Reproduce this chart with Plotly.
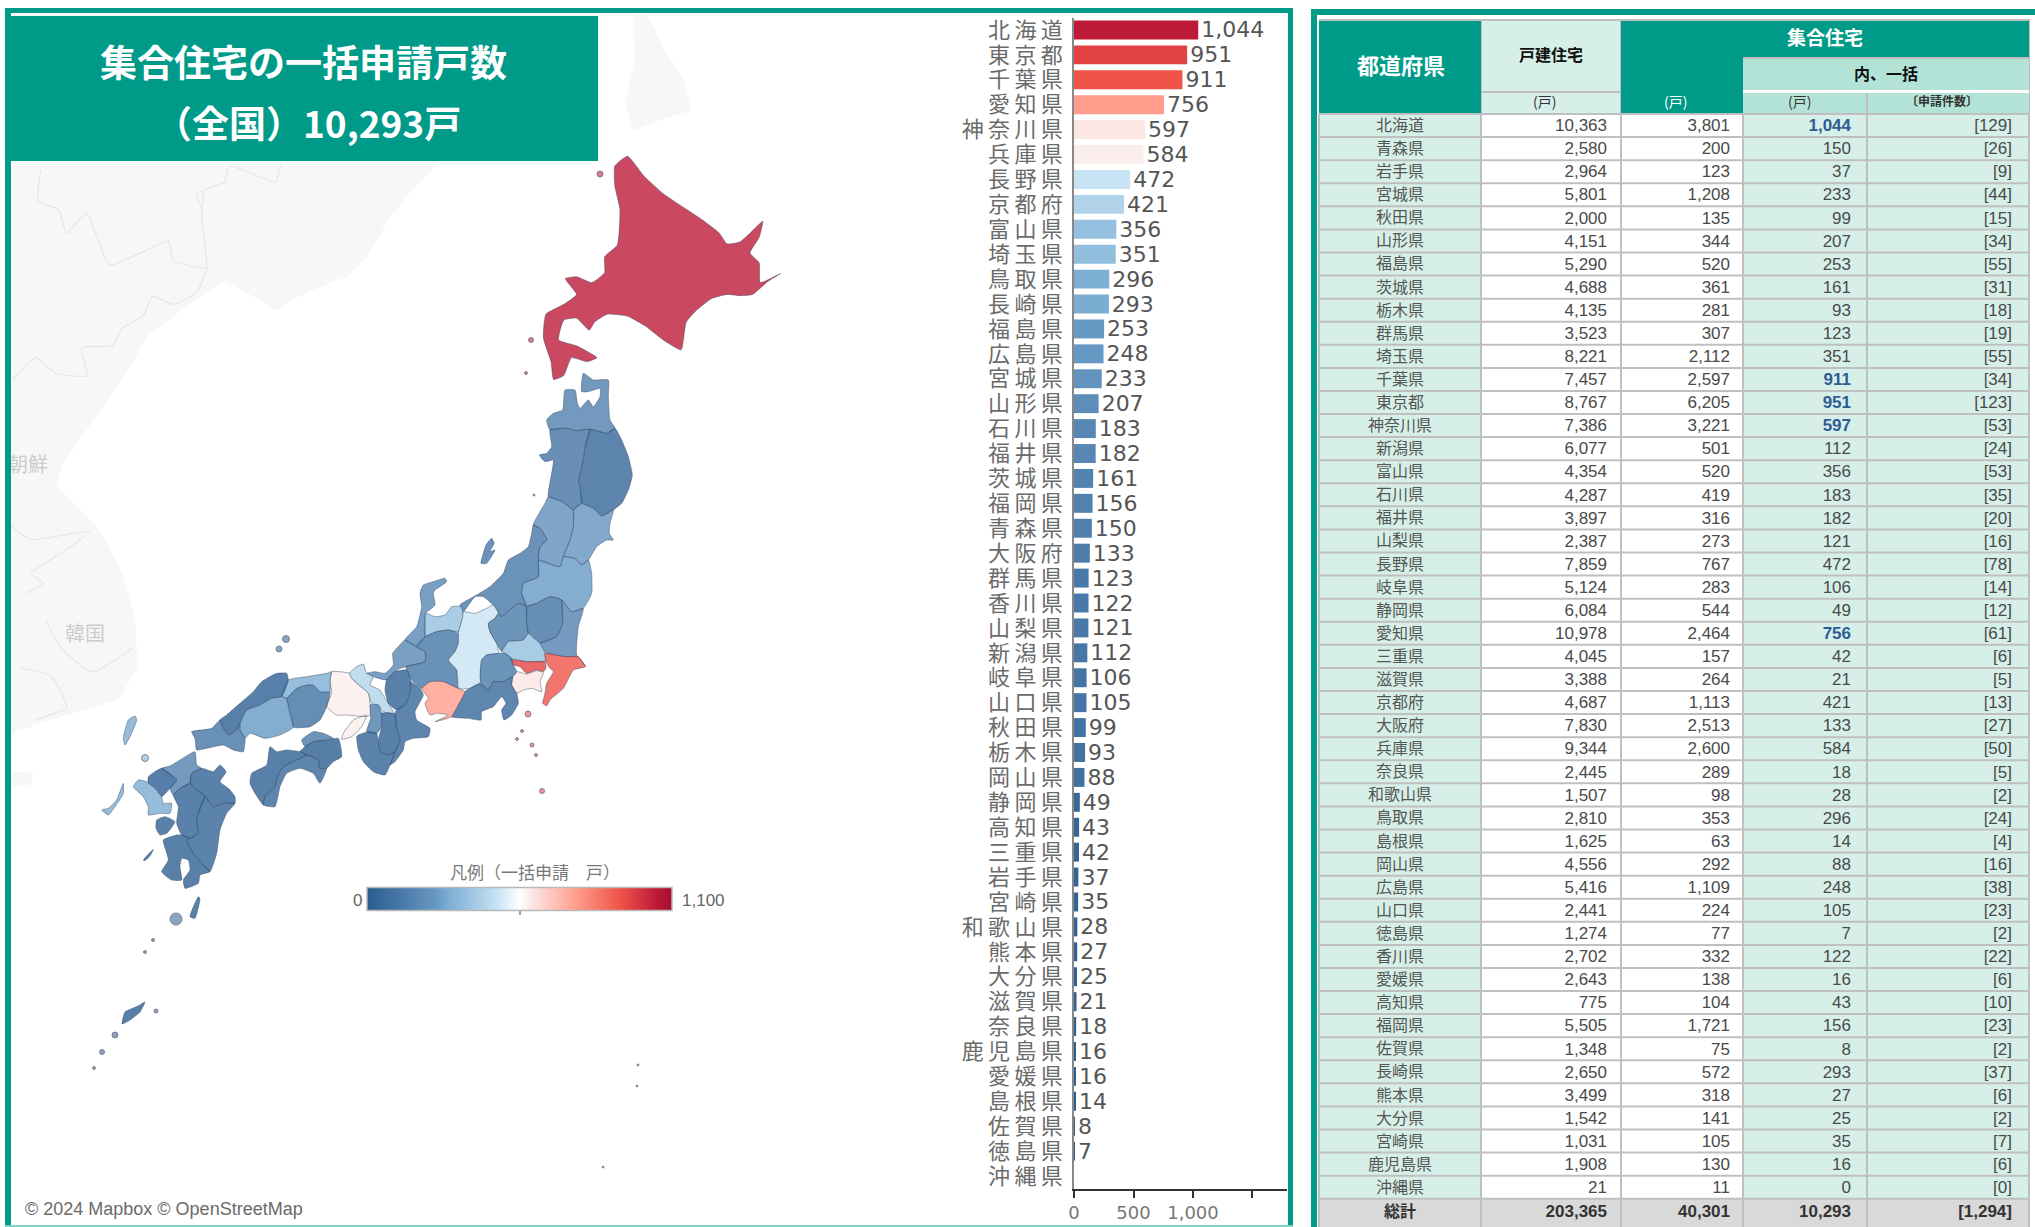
import plotly.graph_objects as go

W, H = 2035, 1227

# ---------- table data (north to south) ----------
PREFS = ["北海道","青森県","岩手県","宮城県","秋田県","山形県","福島県","茨城県","栃木県","群馬県","埼玉県","千葉県","東京都","神奈川県","新潟県","富山県","石川県","福井県","山梨県","長野県","岐阜県","静岡県","愛知県","三重県","滋賀県","京都府","大阪府","兵庫県","奈良県","和歌山県","鳥取県","島根県","岡山県","広島県","山口県","徳島県","香川県","愛媛県","高知県","福岡県","佐賀県","長崎県","熊本県","大分県","宮崎県","鹿児島県","沖縄県"]
DETACHED = [10363,2580,2964,5801,2000,4151,5290,4688,4135,3523,8221,7457,8767,7386,6077,4354,4287,3897,2387,7859,5124,6084,10978,4045,3388,4687,7830,9344,2445,1507,2810,1625,4556,5416,2441,1274,2702,2643,775,5505,1348,2650,3499,1542,1031,1908,21]
APARTMENT = [3801,200,123,1208,135,344,520,361,281,307,2112,2597,6205,3221,501,520,419,316,273,767,283,544,2464,157,264,1113,2513,2600,289,98,353,63,292,1109,224,77,332,138,104,1721,75,572,318,141,105,130,11]
BULK = [1044,150,37,233,99,207,253,161,93,123,351,911,951,597,112,356,183,182,121,472,106,49,756,42,21,421,133,584,18,28,296,14,88,248,105,7,122,16,43,156,8,293,27,25,35,16,0]
APPLICATIONS = [129,26,9,44,15,34,55,31,18,19,55,34,123,53,24,53,35,20,16,78,14,12,61,6,5,13,27,50,5,2,24,4,16,38,23,2,22,6,10,23,2,37,6,2,7,6,0]
TOTALS = [203365, 40301, 10293, 1294]
HIGHLIGHT = ["北海道","千葉県","東京都","神奈川県","愛知県"]

BAR_ORDER = ["北海道","東京都","千葉県","愛知県","神奈川県","兵庫県","長野県","京都府","富山県","埼玉県","鳥取県","長崎県","福島県","広島県","宮城県","山形県","石川県","福井県","茨城県","福岡県","青森県","大阪府","群馬県","香川県","山梨県","新潟県","岐阜県","山口県","秋田県","栃木県","岡山県","静岡県","高知県","三重県","岩手県","宮崎県","和歌山県","熊本県","大分県","滋賀県","奈良県","鹿児島県","愛媛県","島根県","佐賀県","徳島県","沖縄県"]
VALUE_OF = dict(zip(PREFS, BULK))

# ---------- colour scale ----------
SCALE_MAX = 1100
SCALE_STOPS = [0, .188, .23, .269, .319, .383, .429, .5, .531, .543, .687, .828, .865, .949, 1]
SCALE_COLORS = ["#2a5c90","#5e8db9","#6699c4","#7daed3","#93bfdf","#b1d3e9","#c8e4f4","#ffffff","#fbedeb","#fbe6e3","#ff9c8c","#ef5448","#e34244","#bd1a38","#a80c30"]
MAP_OPACITY = 0.8

# ---------- map outlines: three traced sheets, each with (origin x, origin y, scale x, scale y) ----------
SHEET_N = (0, 0, 1/1.96, 1/2.53)
SHEET_E = (380, 360, 1/3, 1/3)
SHEET_W = (80, 640, 1/3, 1/3)
SHEET_U = (0, 0, 1, 1)

OUTLINES = {
 "北海道": [(SHEET_N, [(1205,420),(1230,395),(1262,445),(1300,490),(1340,525),(1375,555),(1410,590),(1425,617),(1450,612),(1470,590),(1495,560),(1488,600),(1470,640),(1488,665),(1490,715),(1530,692),(1505,712),(1475,745),(1450,748),(1425,745),(1395,755),(1365,785),(1345,815),(1335,885),(1300,860),(1265,825),(1230,800),(1190,795),(1165,815),(1155,835),(1130,805),(1105,810),(1095,860),(1130,875),(1170,905),(1150,915),(1120,905),(1105,950),(1085,960),(1080,915),(1065,855),(1070,795),(1105,770),(1130,745),(1108,705),(1130,700),(1160,715),(1185,690),(1185,650),(1210,620),(1215,530),(1205,470)])],
 "青森県": [(SHEET_E, [(610,40),(640,60),(685,60),(685,110),(690,180),(705,205),(680,220),(630,208),(590,212),(560,205),(510,210),(500,180),(520,160),(548,150),(555,90),(585,90),(592,130),(600,145),(625,120),(640,140),(660,110),(660,85),(625,95),(605,95)])],
 "岩手県": [(SHEET_E, [(705,205),(725,240),(745,290),(757,345),(745,390),(725,430),(700,450),(665,468),(640,445),(605,430),(600,380),(595,365),(610,300),(615,260),(630,208),(680,220)])],
 "秋田県": [(SHEET_E, [(510,210),(560,205),(590,212),(630,208),(615,260),(610,300),(595,365),(600,380),(605,430),(580,450),(545,425),(505,410),(515,340),(520,300),(495,305),(478,285),(500,280),(515,260)])],
 "宮城県": [(SHEET_E, [(580,450),(605,430),(640,445),(665,468),(700,450),(690,490),(688,520),(700,540),(680,540),(650,560),(625,600),(605,615),(585,595),(550,590),(570,540),(580,500)])],
 "山形県": [(SHEET_E, [(505,410),(545,425),(580,450),(580,500),(570,540),(550,590),(540,620),(475,600),(480,560),(500,540),(480,505),(460,495),(495,430)])],
 "福島県": [(SHEET_E, [(550,590),(585,595),(605,615),(625,600),(635,640),(635,700),(610,745),(575,755),(545,720),(510,710),(470,730),(440,740),(425,700),(430,670),(475,650),(475,600),(540,620)])],
 "新潟県": [(SHEET_E, [(460,495),(480,505),(500,540),(480,560),(475,600),(475,650),(430,670),(425,700),(440,740),(415,730),(395,745),(365,770),(340,735),(310,710),(285,710),(250,755),(240,735),(290,705),(330,680),(370,640),(385,600),(420,580),(445,560),(455,520)]),
          (SHEET_E, [(335,535),(342,550),(330,575),(345,570),(320,610),(303,610),(310,580),(318,555)])],
 "富山県": [(SHEET_E, [(137,760),(165,770),(195,765),(215,740),(245,740),(248,770),(235,815),(205,810),(170,815),(135,830)])],
 "石川県": [(SHEET_E, [(195,655),(200,665),(165,690),(160,700),(165,735),(137,760),(135,790),(135,830),(110,860),(75,840),(110,800),(125,740),(120,700),(130,675),(160,665)])],
 "福井県": [(SHEET_E, [(75,840),(110,860),(135,875),(135,905),(78,920),(60,925),(45,935),(20,960),(-20,950),(-40,940),(-15,935),(15,940),(40,915),(38,880),(55,860)])],
 "岐阜県": [(SHEET_E, [(135,830),(170,815),(205,810),(235,820),(235,850),(225,875),(205,900),(230,930),(235,985),(190,965),(150,965),(125,985),(95,960),(78,920),(135,905),(135,875),(110,860)])],
 "長野県": [(SHEET_E, [(250,755),(285,760),(320,745),(340,735),(355,760),(345,775),(325,790),(330,815),(350,850),(355,880),(320,885),(305,900),(300,970),(270,985),(235,985),(230,930),(205,900),(225,875),(235,850),(235,820),(248,770)])],
 "群馬県": [(SHEET_E, [(365,770),(395,745),(415,730),(440,740),(440,790),(445,820),(430,840),(385,845),(365,875),(350,850),(330,815),(325,790),(345,775),(355,760)])],
 "栃木県": [(SHEET_E, [(440,740),(470,730),(510,710),(545,720),(548,790),(530,830),(480,850),(445,820),(440,790)])],
 "茨城県": [(SHEET_E, [(575,755),(610,745),(595,800),(590,850),(590,885),(618,920),(595,892),(555,890),(500,880),(480,850),(530,830),(548,790),(545,720)])],
 "埼玉県": [(SHEET_E, [(365,875),(385,845),(430,840),(445,820),(480,850),(495,880),(495,905),(440,905),(395,895),(375,880)])],
 "千葉県": [(SHEET_E, [(495,880),(555,890),(595,890),(615,920),(580,930),(550,985),(510,1020),(500,1038),(488,1030),(495,1000),(500,970),(520,935),(510,925),(498,905)])],
 "東京都": [(SHEET_E, [(390,898),(440,905),(495,905),(498,925),(490,935),(470,930),(440,940),(420,920),(400,915)])],
 "神奈川県": [(SHEET_E, [(410,935),(440,942),(470,932),(490,938),(480,965),(485,995),(455,985),(430,990),(410,1000),(395,975),(398,950)])],
 "山梨県": [(SHEET_E, [(305,900),(320,885),(355,880),(375,880),(395,895),(400,915),(410,935),(398,950),(370,965),(340,965),(325,990),(305,975),(300,950)])],
 "静岡県": [(SHEET_E, [(255,995),(270,985),(300,970),(325,990),(340,965),(370,965),(398,950),(395,975),(410,1000),(415,1030),(395,1065),(372,1080),(365,1050),(378,1030),(365,1010),(340,1040),(305,1055),(303,1080),(265,1075),(215,1070),(235,1035)])],
 "愛知県": [(SHEET_E, [(125,985),(150,965),(190,965),(235,985),(255,995),(235,1035),(215,1070),(165,1085),(205,1065),(170,1060),(150,1065),(135,1030),(145,1015)])],
 "京都府": [(SHEET_W, [(808,100),(830,80),(850,72),(860,100),(880,110),(870,135),(900,150),(915,175),(942,220),(910,215),(895,195),(875,190),(865,160),(830,130),(815,115)])],
 "滋賀県": [(SHEET_W, [(920,120),(945,95),(980,90),(992,120),(990,160),(975,195),(950,210),(925,190),(915,150)])],
 "三重県": [(SHEET_W, [(992,125),(1020,145),(1030,165),(1005,215),(1010,240),(1050,265),(1045,290),(1000,295),(975,305),(970,330),(945,365),(930,375),(945,335),(960,300),(950,265),(945,220),(950,210),(975,195),(990,160)])],
 "奈良県": [(SHEET_W, [(905,220),(945,222),(950,265),(960,300),(945,335),(925,345),(900,335),(895,300),(905,260)])],
 "大阪府": [(SHEET_W, [(870,195),(895,195),(905,220),(905,260),(890,280),(860,275),(872,235)])],
 "和歌山県": [(SHEET_W, [(835,285),(865,275),(890,280),(895,310),(900,335),(925,345),(945,335),(930,375),(915,405),(880,395),(850,365),(835,330),(830,290)])],
 "兵庫県": [(SHEET_W, [(755,95),(808,100),(815,115),(830,130),(865,160),(870,225),(858,230),(800,225),(770,225),(740,200),(755,160),(750,120)]),
          (SHEET_W, [(820,240),(860,225),(845,260),(815,290),(785,298),(790,280)])],
 "岡山県": [(SHEET_W, [(620,175),(650,145),(680,135),(700,135),(720,155),(750,155),(740,200),(720,240),(690,260),(640,262),(630,220)])],
 "鳥取県": [(SHEET_W, [(605,170),(625,120),(680,110),(740,100),(755,95),(750,120),(750,155),(720,155),(700,135),(680,135),(650,145),(620,175)])],
 "島根県": [(SHEET_W, [(420,240),(440,225),(480,190),(520,155),(545,125),(590,100),(620,100),(625,120),(605,170),(575,175),(540,195),(500,210),(480,250),(470,270),(445,285),(430,265)])],
 "広島県": [(SHEET_W, [(480,250),(500,210),(540,195),(575,175),(605,170),(620,175),(630,220),(640,262),(600,285),(555,295),(510,280),(495,295),(480,270)])],
 "山口県": [(SHEET_W, [(335,275),(395,265),(420,240),(430,265),(445,285),(470,270),(480,250),(480,270),(495,295),(490,335),(460,330),(430,315),(380,325),(350,330),(345,295)])],
 "香川県": [(SHEET_W, [(665,300),(700,275),(730,280),(760,295),(745,300),(700,305),(675,320)])],
 "徳島県": [(SHEET_W, [(675,320),(700,305),(745,300),(775,295),(785,350),(760,365),(740,385),(720,385),(715,360),(680,345),(660,335)])],
 "愛媛県": [(SHEET_W, [(515,400),(560,375),(570,320),(590,335),(620,330),(660,335),(680,345),(660,355),(610,380),(590,415),(585,440),(555,470),(550,495),(525,460),(510,430)])],
 "高知県": [(SHEET_W, [(550,495),(555,470),(585,440),(590,415),(610,380),(660,355),(680,345),(715,360),(720,385),(740,385),(720,430),(700,400),(660,385),(620,400),(600,440),(585,500)])],
 "福岡県": [(SHEET_W, [(245,385),(270,378),(300,360),(345,335),(350,375),(365,385),(335,400),(330,430),(300,445),(280,465),(270,445),(290,420)])],
 "佐賀県": [(SHEET_W, [(205,410),(225,395),(245,385),(290,420),(270,445),(245,470),(225,445),(205,430)])],
 "長崎県": [(SHEET_W, [(175,420),(200,425),(225,445),(245,470),(250,490),(275,490),(270,520),(240,520),(205,525),(205,500),(190,470),(160,440)]),
          (SHEET_W, [(65,510),(85,505),(110,480),(130,430),(130,460),(105,500),(85,525)]),
          (SHEET_W, [(165,228),(170,240),(150,290),(135,315),(130,295),(145,240)])],
 "大分県": [(SHEET_W, [(335,400),(365,385),(400,395),(420,375),(438,395),(420,425),(445,445),(465,470),(465,490),(430,490),(400,500),(375,470),(345,445),(330,430)])],
 "熊本県": [(SHEET_W, [(280,465),(300,445),(330,430),(345,445),(375,470),(350,535),(355,580),(330,595),(305,585),(290,550),(295,500)]),
          (SHEET_W, [(230,540),(255,530),(285,545),(260,580),(240,585),(228,565)])],
 "宮崎県": [(SHEET_W, [(375,470),(400,500),(430,490),(465,490),(440,520),(420,570),(410,640),(390,695),(365,670),(340,640),(320,600),(330,595),(355,580),(350,535)])],
 "鹿児島県": [(SHEET_W, [(250,600),(290,585),(305,585),(330,595),(320,600),(340,640),(365,670),(390,695),(360,705),(355,730),(315,745),(310,720),(330,690),(325,660),(305,655),(300,680),(305,720),(275,720),(245,695),(265,660)]),
            (SHEET_W, [(355,770),(360,775),(345,835),(330,830)]),
            (SHEET_W, [(190,660),(220,628),(212,645),(195,662)]),
            (SHEET_U, [(145,1002),(138,1006),(125,1012),(122,1024),(130,1020),(140,1012)])],
}

# small islands: prefecture, map grid x, map grid y, marker size
ISLETS = [("北海道",600,174,6),("北海道",531,340,5),("北海道",526,373,3),
          ("東京都",528,714,6),("東京都",522,731,3),("東京都",517,739,3),("東京都",532,745,4),("東京都",536,755,3),("東京都",542,791,5),
          ("東京都",638,1065,2),("東京都",637,1086,2),("東京都",603,1167,2),
          ("長崎県",145,758,7),("新潟県",534,495,2),
          ("島根県",286,639,7),("島根県",279,649,6),
          ("鹿児島県",176,919,12),("鹿児島県",115,1035,6),("鹿児島県",102,1052,5),("鹿児島県",156,1011,4),("鹿児島県",94,1068,3),("鹿児島県",153,940,3),("鹿児島県",145,952,3)]

# faint surrounding land
LAND = [(SHEET_N, [(22,410),(860,410),(800,490),(760,560),(720,650),(680,700),(600,740),(540,785),(490,745),(440,710),(400,745),(340,800),(290,850),(240,960),(190,1050),(120,1180),(110,1230),(150,1280),(200,1350),(240,1450),(265,1568),(270,1690),(231,1771),(98,1822),(29,1852),(22,1870)]),
        (SHEET_N, [(22,1955),(65,1950),(60,1985),(22,1990)]),
        (SHEET_N, [(1240,38),(1270,40),(1300,120),(1340,200),(1355,280),(1300,300),(1240,330),(1225,260),(1245,150)])]
BORDERS = [(SHEET_N, [(400,480),(395,540),(405,680),(385,740),(340,770),(300,750),(280,800),(240,830),(220,875),(160,880),(170,950),(110,945),(70,905),(25,960)]),
           (SHEET_N, [(80,430),(75,510),(115,530),(130,590),(170,540),(215,670),(330,610),(340,660),(405,680)]),
           (SHEET_N, [(550,415),(540,460),(450,420),(440,460),(385,490),(400,540)]),
           (SHEET_N, [(22,1330),(60,1365),(175,1345),(120,1400),(60,1450),(85,1475),(50,1500)]),
           (SHEET_N, [(90,1570),(120,1640),(180,1700),(260,1640)]),
           (SHEET_N, [(40,1690),(100,1710),(130,1790),(70,1820)])]
MAP_LABELS = ["朝鮮", "韓国"]
MAP_LABEL_X = [48, 105]
MAP_LABEL_Y = [467, 636]

# ---------- helpers ----------
def hex_rgb(c):
    return tuple(int(c[i:i+2], 16) for i in (1, 3, 5))

def scale_rgb(v):
    t = v / SCALE_MAX
    for i in range(len(SCALE_STOPS) - 1):
        a, b = SCALE_STOPS[i], SCALE_STOPS[i + 1]
        if t <= b:
            f = (t - a) / (b - a)
            ca, cb = hex_rgb(SCALE_COLORS[i]), hex_rgb(SCALE_COLORS[i + 1])
            return tuple(round(ca[k] + (cb[k] - ca[k]) * f) for k in range(3))
    return hex_rgb(SCALE_COLORS[-1])

def map_color(v):
    r, g, b = scale_rgb(v)
    return f"rgba({r},{g},{b},{MAP_OPACITY})"

def sheet_xy(parts, close=True):
    xs, ys = [], []
    for (ox, oy, sx, sy), pts in parts:
        pts = pts + [pts[0]] if close else pts
        xs += [ox + p[0] * sx for p in pts] + [None]
        ys += [oy + p[1] * sy for p in pts] + [None]
    return xs, ys

def px(x):
    return x / W

def py(y):
    return 1 - y / H

fig = go.Figure()

# ---------- map ----------
lx, ly = sheet_xy(LAND)
fig.add_trace(go.Scatter(x=lx, y=ly, mode="lines", fill="toself", fillcolor="#f7f7f7", line=dict(width=0), hoverinfo="skip", xaxis="x", yaxis="y"))
bx, by = sheet_xy(BORDERS, close=False)
fig.add_trace(go.Scatter(x=bx, y=by, mode="lines", line=dict(color="#e6e6e6", width=1.2, shape="spline", smoothing=0.5), hoverinfo="skip", xaxis="x", yaxis="y"))
fig.add_trace(go.Scatter(x=MAP_LABEL_X, y=MAP_LABEL_Y, text=MAP_LABELS, mode="text", textposition="middle left",
                         textfont=dict(family="Noto Sans CJK JP", size=20, color="#cccccc"), hoverinfo="skip", xaxis="x", yaxis="y"))
for name, parts in OUTLINES.items():
    x, y = sheet_xy(parts)
    fig.add_trace(go.Scatter(x=x, y=y, mode="lines", fill="toself", fillcolor=map_color(VALUE_OF[name]),
                             line=dict(color="rgba(55,70,95,0.45)", width=1, shape="spline", smoothing=0.45), name=name,
                             hoverinfo="name", xaxis="x", yaxis="y"))
fig.add_trace(go.Scatter(x=[i[1] for i in ISLETS], y=[i[2] for i in ISLETS], mode="markers",
                         marker=dict(size=[i[3] for i in ISLETS], color=[map_color(VALUE_OF[i[0]]) for i in ISLETS],
                                     line=dict(color="rgba(50,50,70,0.8)", width=1)),
                         hoverinfo="skip", xaxis="x", yaxis="y"))

# ---------- ranked bars ----------
bar_values = [VALUE_OF[p] for p in BAR_ORDER]
fig.add_trace(go.Bar(
    y=BAR_ORDER, x=bar_values, orientation="h", width=0.76,
    text=[f"{v:,}" if v else "" for v in bar_values], textposition="outside", cliponaxis=False, constraintext="none",
    textfont=dict(family="DejaVu Sans", size=22, color="#555555"),
    marker=dict(color=bar_values, cmin=0, cmax=SCALE_MAX,
                colorscale=[[s, c] for s, c in zip(SCALE_STOPS, SCALE_COLORS)],
                line=dict(width=0), showscale=True,
                colorbar=dict(orientation="h", x=px(519.5), xanchor="center", y=py(912), yanchor="bottom",
                              len=305, lenmode="pixels", thickness=23, thicknessmode="pixels",
                              xpad=0, ypad=0, ticks="", showticklabels=False,
                              outlinecolor="#b8b8b8", outlinewidth=1.5)),
    hovertemplate="%{y}: %{x:,}<extra></extra>", xaxis="x2", yaxis="y2"))

# ---------- table body ----------
ROW_H = 23.08
TOTAL_H = 28
TABLE_TOP, TABLE_BODY_END, TABLE_END = 114, 1199, 1227
COL_EDGES = [1319, 1481, 1621, 1743, 1867, 2029]
COL_TEXT_RIGHT = [1607, 1730, 1851, 2012]
TEXT_NUDGE = 0.06
TOTAL_Y = len(PREFS) - 0.5 + 0.5 * TOTAL_H / ROW_H
rows = [i + TEXT_NUDGE for i in range(len(PREFS))]
NAME_FONT = "Liberation Sans, Noto Sans CJK JP"
NUM_FONT = "Liberation Sans, Noto Sans CJK JP"
CJK = "Noto Sans CJK JP"

fig.add_trace(go.Scatter(x=[(COL_EDGES[0] + COL_EDGES[1]) / 2] * len(rows), y=rows, text=PREFS, mode="text",
                         textposition="middle center", textfont=dict(family=NAME_FONT, size=16, color="#555555"),
                         hoverinfo="skip", cliponaxis=False, xaxis="x3", yaxis="y3"))
col_text = [[f"{v:,}" for v in DETACHED], [f"{v:,}" for v in APARTMENT],
            [f"<b>{v:,}</b>" if p in HIGHLIGHT else f"{v:,}" for p, v in zip(PREFS, BULK)],
            [f"[{v:,}]" for v in APPLICATIONS]]
for j, tx in enumerate(col_text):
    colors = ["#2f5c92" if (j == 2 and p in HIGHLIGHT) else "#4a4a4a" for p in PREFS]
    fig.add_trace(go.Scatter(x=[COL_TEXT_RIGHT[j]] * len(rows), y=rows, text=tx, mode="text",
                             textposition="middle left", textfont=dict(family=NUM_FONT, size=17, color=colors),
                             hoverinfo="skip", cliponaxis=False, xaxis="x3", yaxis="y3"))
total_text = [f"<b>{TOTALS[0]:,}</b>", f"<b>{TOTALS[1]:,}</b>", f"<b>{TOTALS[2]:,}</b>", f"<b>[{TOTALS[3]:,}]</b>"]
fig.add_trace(go.Scatter(x=COL_TEXT_RIGHT, y=[TOTAL_Y] * 4, text=total_text, mode="text", textposition="middle left",
                         textfont=dict(family=NUM_FONT, size=17, color="#333333"), hoverinfo="skip", cliponaxis=False, xaxis="x3", yaxis="y3"))
fig.add_trace(go.Scatter(x=[(COL_EDGES[0] + COL_EDGES[1]) / 2], y=[TOTAL_Y], text=["<b>総計</b>"], mode="text", textposition="middle center",
                         textfont=dict(family=NAME_FONT, size=16, color="#333333"), hoverinfo="skip", cliponaxis=False, xaxis="x3", yaxis="y3"))

# ---------- shapes ----------
TEAL = "#009b88"
MINT = "#d6f0e9"
MINT2 = "#b3e3d7"
GRID = "#bfbfbf"
shapes = []

def rect(x0, y0, x1, y1, fill, line=None, lw=0, layer="below"):
    shapes.append(dict(type="rect", xref="paper", yref="paper", x0=px(x0), x1=px(x1), y0=py(y0), y1=py(y1),
                       fillcolor=fill, line=dict(color=line or fill, width=lw), layer=layer))

def hline(x0, x1, y, color=GRID, w=2, layer="below"):
    shapes.append(dict(type="line", xref="paper", yref="paper", x0=px(x0), x1=px(x1), y0=py(y), y1=py(y),
                       line=dict(color=color, width=w), layer=layer))

def vline(x, y0, y1, color=GRID, w=2, layer="below"):
    shapes.append(dict(type="line", xref="paper", yref="paper", x0=px(x), x1=px(x), y0=py(y0), y1=py(y1),
                       line=dict(color=color, width=w), layer=layer))

# panel frames
rect(5, 8, 11, H, TEAL, layer="above")
rect(5, 8, 1293, 13, TEAL, layer="above")
rect(1288, 8, 1293, H, TEAL, layer="above")
rect(5, 1225, 1293, H, "#7fd5c5", layer="above")
rect(1311, 9, 1317, H, TEAL, layer="above")
rect(1311, 9, W, 15, TEAL, layer="above")
rect(5, 16, 598, 161, TEAL, layer="above")

# table cells
rect(1319, 19, 2030, 114, GRID)
rect(1319, 21, 1481, 113, TEAL)
rect(1482, 21, 1620, 91, MINT)
rect(1482, 93, 1620, 113, MINT)
rect(1621, 21, 2029, 57, TEAL)
rect(1621, 57, 1743, 113, TEAL)
rect(1743, 59, 2029, 90, MINT2)
rect(1743, 90, 2029, 93, "#ffffff")
rect(1743, 93, 2029, 113, MINT2)
vline(1867, 93, 113)
rect(1319, TABLE_TOP, 1481, TABLE_BODY_END, MINT)
rect(1481, TABLE_TOP, 1743, TABLE_BODY_END, "#ffffff")
rect(1743, TABLE_TOP, 2029, TABLE_BODY_END, MINT)
rect(1319, TABLE_BODY_END, 2029, TABLE_END, "#d9d9d9")
for i in range(len(PREFS) + 1):
    hline(1319, 2029, TABLE_TOP + i * ROW_H)
for e in COL_EDGES:
    vline(e, TABLE_TOP, TABLE_END)
# centre tick of the legend
vline(520, 909, 915, color="#333333", w=1, layer="above")

# ---------- annotations ----------
def note(x, y, text, size, color, family=CJK, xanchor="center"):
    return dict(xref="paper", yref="paper", x=px(x), y=py(y), text=text, showarrow=False, xanchor=xanchor, yanchor="middle",
                font=dict(family=family, size=size, color=color))

annotations = [
    note(303, 61, "<b>集合住宅の一括申請戸数</b>", 37, "#ffffff"),
    note(308, 122, "<b>（全国）10,293戸</b>", 37, "#ffffff"),
    note(1401, 64, "<b>都道府県</b>", 22, "#ffffff"),
    note(1551, 54, "<b>戸建住宅</b>", 16, "#111111"),
    note(1825, 36, "<b>集合住宅</b>", 19, "#ffffff"),
    note(1886, 73, "<b>内、一括</b>", 16, "#111111"),
    note(1544, 101, "(戸)", 14, "#333333"),
    note(1675, 101, "(戸)", 14, "#ffffff"),
    note(1799, 101, "(戸)", 14, "#333333"),
    note(1942, 101, "<b>〔申請件数〕</b>", 12, "#333333"),
    note(535, 871, "凡例（一括申請　戸）", 17, "#777777"),
    note(357, 900, "0", 17, "#666666", "Liberation Sans"),
    note(680, 900, "1,100", 17, "#666666", "Liberation Sans", "left"),
    note(23, 1209, "© 2024 Mapbox © OpenStreetMap", 18, "#6a6a6a", "Liberation Sans", "left"),
]

hidden = dict(visible=False, showgrid=False, zeroline=False, fixedrange=True)
fig.update_layout(
    width=W, height=H, margin=dict(l=0, r=0, t=0, b=0, autoexpand=False), autosize=False,
    paper_bgcolor="#ffffff", plot_bgcolor="rgba(0,0,0,0)", showlegend=False, bargap=0.24,
    font=dict(family=CJK), shapes=shapes, annotations=annotations,
    xaxis=dict(domain=[px(11), px(1288)], range=[11, 1288], anchor="y", **hidden),
    yaxis=dict(domain=[py(1225), py(13)], range=[1225, 13], anchor="x", **hidden),
    xaxis2=dict(domain=[px(1074), px(1287)], range=[0, 1790], anchor="y2", tickvals=[0, 500, 1000, 1500], ticktext=["0", "500", "1,000", ""],
                showline=True, linecolor="#333333", linewidth=2, ticks="outside", ticklen=7, tickwidth=2, tickcolor="#333333",
                showgrid=False, zeroline=False, fixedrange=True, tickfont=dict(family="DejaVu Sans", size=18, color="#777777")),
    yaxis2=dict(domain=[py(1188.5), py(17.5)], range=[46.5, -0.5], anchor="x2", type="category", categoryorder="array", categoryarray=BAR_ORDER,
                tickmode="array", tickvals=BAR_ORDER, ticktext=["\u2009".join(p) for p in BAR_ORDER],
                showline=True, linecolor="#888888", linewidth=1.5, ticks="outside", ticklen=5, tickcolor="rgba(0,0,0,0)",
                showgrid=False, zeroline=False, fixedrange=True,
                tickfont=dict(family="Liberation Sans, Noto Sans CJK JP", size=22, color="#6b6b6b")),
    xaxis3=dict(domain=[px(1319), px(2029)], range=[1319, 2029], anchor="y3", **hidden),
    yaxis3=dict(domain=[py(TABLE_END), py(TABLE_TOP)], range=[len(PREFS) - 0.5 + TOTAL_H / ROW_H, -0.5], anchor="x3", **hidden),
)

fig.write_html("out.html", config=dict(displayModeBar=False),
               post_script="document.body.style.margin='0';document.body.style.overflow='hidden';")
